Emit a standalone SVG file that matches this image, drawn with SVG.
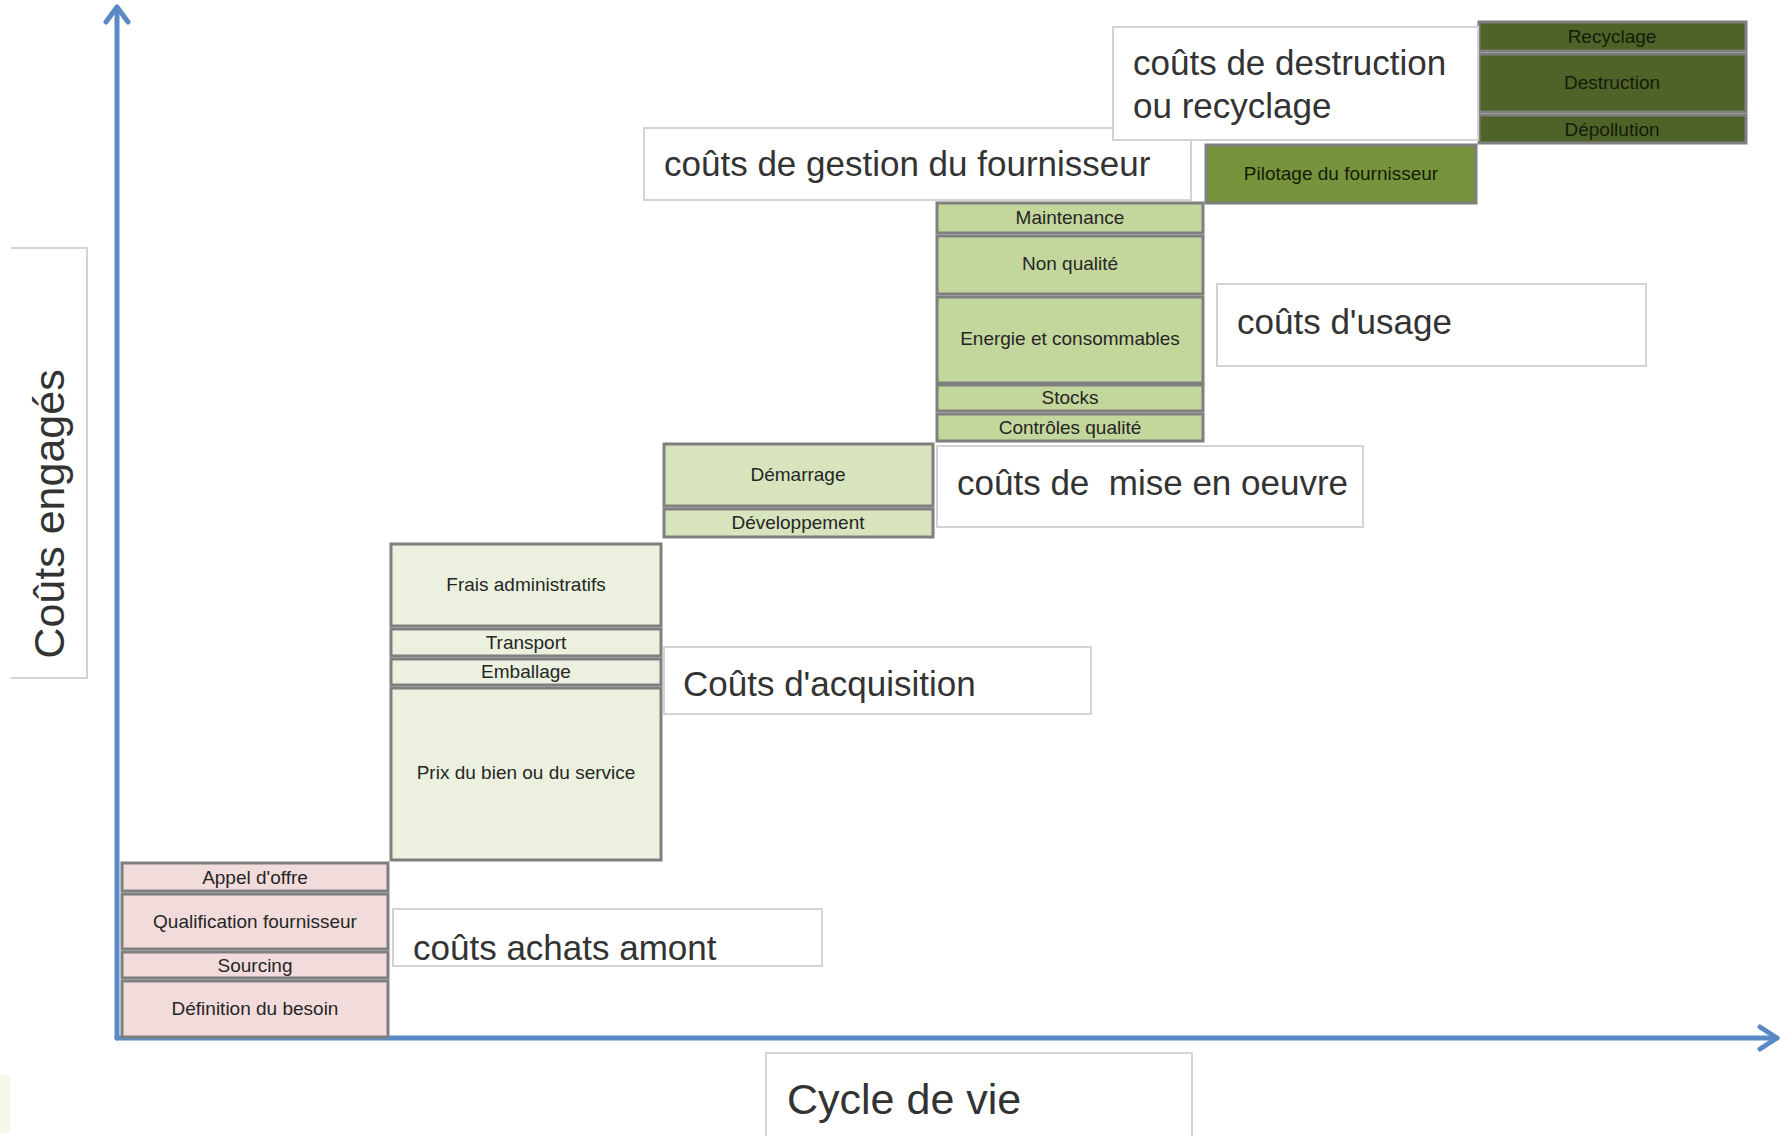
<svg xmlns="http://www.w3.org/2000/svg" width="1785" height="1136" viewBox="0 0 1785 1136">
<style>
.n{stroke:#7f7f7f;stroke-width:3}
.pk{fill:#f2dcdb}
.lg{fill:#ebf1de}
.mg{fill:#d7e4bd}
.g2{fill:#c3d69b}
.g3{fill:#77933c}
.g4{fill:#4f6228}
.t{font-family:"Liberation Sans",Arial,sans-serif;font-size:19px;fill:#262626;text-anchor:middle}
.td{fill:#141c08}
.lb{fill:#ffffff;stroke:#d3d3d3;stroke-width:2}
.lt{font-family:"Liberation Sans",Arial,sans-serif;font-size:35px;fill:#333333}
.big{font-size:43px}
.ax{stroke:#5a8ac6;stroke-width:5;fill:none;stroke-linecap:round;stroke-linejoin:round}
</style>
<rect width="1785" height="1136" fill="#ffffff"/>
<rect x="0" y="1075" width="10" height="58" fill="#f5f8e8"/>

<g id="axes">
<path class="ax" d="M117 1038 V8"/>
<path class="ax" d="M106 22 L117 7 L128 22"/>
<path class="ax" d="M117 1038 H1777"/>
<path class="ax" d="M1760 1027 L1777 1038 L1760 1049"/>
</g>

<g id="label-couts-engages">
<rect x="11" y="248" width="76" height="430" fill="#ffffff"/>
<path d="M11 248 H87 V678 H11" fill="none" stroke="#d3d3d3" stroke-width="2"/>
<text class="lt big" transform="translate(64,514) rotate(-90)" text-anchor="middle">Coûts engagés</text>
</g>
<g id="label-cycle-de-vie">
<rect class="lb" x="766" y="1053" width="426" height="95"/>
<text class="lt big" x="787" y="1114">Cycle de vie</text>
</g>

<g id="amont">
<rect class="n pk" x="122" y="863" width="266" height="28"/>
<text class="t" x="255" y="884">Appel d'offre</text>
<rect class="n pk" x="122" y="894" width="266" height="55"/>
<text class="t" x="255" y="928">Qualification fournisseur</text>
<rect class="n pk" x="122" y="952" width="266" height="26"/>
<text class="t" x="255" y="972">Sourcing</text>
<rect class="n pk" x="122" y="981" width="266" height="56"/>
<text class="t" x="255" y="1015">Définition du besoin</text>
</g>
<g id="label-amont">
<rect class="lb" x="393" y="909" width="429" height="57"/>
<text class="lt" x="413" y="960">coûts achats amont</text>
</g>

<g id="acquisition">
<rect class="n lg" x="391" y="544" width="270" height="82"/>
<text class="t" x="526" y="591">Frais administratifs</text>
<rect class="n lg" x="391" y="629" width="270" height="27"/>
<text class="t" x="526" y="649">Transport</text>
<rect class="n lg" x="391" y="659" width="270" height="26"/>
<text class="t" x="526" y="678">Emballage</text>
<rect class="n lg" x="391" y="688" width="270" height="172"/>
<text class="t" x="526" y="779">Prix du bien ou du service</text>
</g>
<g id="label-acquisition">
<rect class="lb" x="664" y="647" width="427" height="67"/>
<text class="lt" x="683" y="696">Coûts d'acquisition</text>
</g>

<g id="mise-en-oeuvre">
<rect class="n mg" x="664" y="444" width="269" height="62"/>
<text class="t" x="798" y="481">Démarrage</text>
<rect class="n mg" x="664" y="509" width="269" height="28"/>
<text class="t" x="798" y="529">Développement</text>
</g>
<g id="label-mise-en-oeuvre">
<rect class="lb" x="937" y="446" width="426" height="81"/>
<text class="lt" x="957" y="495" xml:space="preserve">coûts de  mise en oeuvre</text>
</g>

<g id="usage">
<rect class="n g2" x="937" y="203" width="266" height="30"/>
<text class="t" x="1070" y="224">Maintenance</text>
<rect class="n g2" x="937" y="236" width="266" height="58"/>
<text class="t" x="1070" y="270">Non qualité</text>
<rect class="n g2" x="937" y="297" width="266" height="86"/>
<text class="t" x="1070" y="345">Energie et consommables</text>
<rect class="n g2" x="937" y="385" width="266" height="26"/>
<text class="t" x="1070" y="404">Stocks</text>
<rect class="n g2" x="937" y="414" width="266" height="27"/>
<text class="t" x="1070" y="434">Contrôles qualité</text>
</g>
<g id="label-usage">
<rect class="lb" x="1217" y="284" width="429" height="82"/>
<text class="lt" x="1237" y="334">coûts d'usage</text>
</g>

<g id="gestion-fournisseur">
<rect class="n g3" x="1206" y="145" width="270" height="58"/>
<text class="t td" x="1341" y="180">Pilotage du fournisseur</text>
</g>
<g id="label-gestion">
<rect class="lb" x="644" y="128" width="547" height="72"/>
<text class="lt" x="664" y="176">coûts de gestion du fournisseur</text>
</g>

<g id="destruction">
<rect class="n g4" x="1479" y="22" width="267" height="29"/>
<text class="t td" x="1612" y="43">Recyclage</text>
<rect class="n g4" x="1479" y="54" width="267" height="58"/>
<text class="t td" x="1612" y="89">Destruction</text>
<rect class="n g4" x="1479" y="115" width="267" height="28"/>
<text class="t td" x="1612" y="136">Dépollution</text>
</g>
<g id="label-destruction">
<rect class="lb" x="1113" y="27" width="365" height="113"/>
<text class="lt" x="1133" y="75">coûts de destruction</text>
<text class="lt" x="1133" y="118">ou recyclage</text>
</g>
</svg>
